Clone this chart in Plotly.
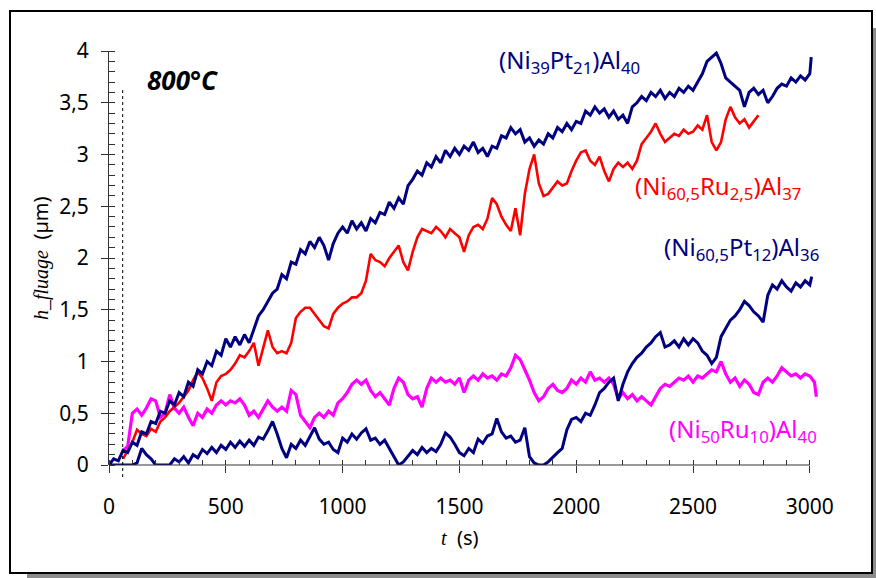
import plotly.graph_objects as go

# ---------------- data ----------------
x_ticks = [0, 500, 1000, 1500, 2000, 2500, 3000]
x_tick_labels = ["0", "500", "1000", "1500", "2000", "2500", "3000"]
y_ticks = [0, 0.5, 1, 1.5, 2, 2.5, 3, 3.5, 4]
y_tick_labels = ["0", "0,5", "1", "1,5", "2", "2,5", "3", "3,5", "4"]

# (Ni39Pt21)Al40  -- t = 0..3000 step 20, then 3006
pt21_t = list(range(0, 3001, 20)) + [3006]
pt21_h = [
    0.00, 0.06, 0.04, 0.14, 0.12, 0.22, 0.19, 0.32, 0.30, 0.42,
    0.40, 0.52, 0.50, 0.62, 0.58, 0.70, 0.66, 0.80, 0.76, 0.92,
    0.88, 1.00, 0.96, 1.10, 1.06, 1.22, 1.14, 1.24, 1.16, 1.26,
    1.18, 1.30, 1.44, 1.50, 1.58, 1.66, 1.70, 1.84, 1.80, 1.96,
    1.94, 2.08, 2.04, 2.16, 2.10, 2.20, 2.12, 1.98, 2.14, 2.24,
    2.30, 2.24, 2.36, 2.28, 2.34, 2.26, 2.38, 2.34, 2.44, 2.42,
    2.54, 2.48, 2.58, 2.52, 2.70, 2.76, 2.84, 2.80, 2.92, 2.88,
    2.98, 2.92, 3.04, 2.98, 3.06, 3.00, 3.08, 3.04, 3.12, 3.02,
    3.06, 2.98, 3.08, 3.06, 3.18, 3.16, 3.26, 3.20, 3.24, 3.12,
    3.16, 3.08, 3.14, 3.10, 3.20, 3.16, 3.26, 3.22, 3.30, 3.24,
    3.32, 3.30, 3.42, 3.38, 3.46, 3.40, 3.44, 3.36, 3.42, 3.34,
    3.38, 3.30, 3.46, 3.50, 3.56, 3.52, 3.60, 3.56, 3.62, 3.54,
    3.60, 3.56, 3.64, 3.60, 3.66, 3.62, 3.70, 3.78, 3.90, 3.94,
    3.98, 3.88, 3.74, 3.70, 3.66, 3.62, 3.46, 3.60, 3.64, 3.58,
    3.62, 3.50, 3.56, 3.64, 3.68, 3.66, 3.74, 3.70, 3.76, 3.72,
    3.78, 3.94,
]

# (Ni60,5Ru2,5)Al37  -- t = 60..2780 step 20
ru25_t = list(range(60, 2781, 20))
ru25_h = [
    0.06, 0.14, 0.22, 0.34, 0.30, 0.28, 0.35, 0.32, 0.42, 0.46,
    0.52, 0.56, 0.60, 0.66, 0.72, 0.82, 0.90, 0.84, 0.74, 0.62,
    0.80, 0.86, 0.88, 0.92, 0.98, 1.06, 1.04, 1.10, 1.18, 0.96,
    1.14, 1.30, 1.14, 1.08, 1.10, 1.08, 1.18, 1.42, 1.48, 1.52,
    1.52, 1.46, 1.40, 1.34, 1.32, 1.46, 1.52, 1.56, 1.58, 1.62,
    1.62, 1.66, 1.78, 2.04, 1.98, 1.96, 1.92, 2.00, 2.06, 2.12,
    1.96, 1.88, 2.06, 2.20, 2.28, 2.26, 2.24, 2.30, 2.26, 2.20,
    2.28, 2.24, 2.20, 2.06, 2.22, 2.30, 2.32, 2.28, 2.38, 2.58,
    2.52, 2.40, 2.32, 2.26, 2.48, 2.22, 2.62, 2.86, 3.00, 2.72,
    2.60, 2.62, 2.68, 2.74, 2.70, 2.72, 2.84, 2.94, 3.02, 3.04,
    2.94, 2.90, 2.98, 2.84, 2.74, 2.86, 2.92, 2.88, 2.92, 2.86,
    2.94, 3.10, 3.16, 3.22, 3.30, 3.20, 3.12, 3.16, 3.20, 3.18,
    3.24, 3.20, 3.22, 3.28, 3.24, 3.38, 3.12, 3.04, 3.12, 3.34,
    3.46, 3.36, 3.30, 3.34, 3.26, 3.32, 3.38,
]

# (Ni60,5Pt12)Al36  -- t = 0..3000 step 20, then 3008
pt12_t = list(range(0, 3001, 20)) + [3008]
pt12_h = [
    0.00, 0.00, 0.00, 0.00, 0.00, 0.00, 0.02, 0.16, 0.10, 0.06,
    0.00, 0.00, 0.00, 0.00, 0.06, 0.03, 0.08, 0.02, 0.10, 0.07,
    0.15, 0.11, 0.17, 0.12, 0.19, 0.15, 0.22, 0.17, 0.23, 0.18,
    0.24, 0.19, 0.27, 0.25, 0.33, 0.42, 0.30, 0.16, 0.07, 0.20,
    0.16, 0.24, 0.19, 0.28, 0.36, 0.25, 0.20, 0.22, 0.15, 0.12,
    0.26, 0.22, 0.30, 0.25, 0.31, 0.35, 0.24, 0.26, 0.20, 0.24,
    0.16, 0.08, 0.00, 0.03, 0.08, 0.14, 0.10, 0.17, 0.12, 0.16,
    0.13, 0.20, 0.31, 0.27, 0.20, 0.12, 0.09, 0.16, 0.12, 0.25,
    0.21, 0.28, 0.30, 0.45, 0.32, 0.26, 0.28, 0.22, 0.24, 0.36,
    0.08, 0.02, 0.00, 0.00, 0.03, 0.08, 0.12, 0.16, 0.34, 0.44,
    0.46, 0.42, 0.50, 0.48, 0.58, 0.70, 0.74, 0.80, 0.84, 0.62,
    0.78, 0.90, 0.98, 1.04, 1.08, 1.14, 1.18, 1.24, 1.28, 1.14,
    1.16, 1.20, 1.14, 1.22, 1.16, 1.22, 1.18, 1.10, 1.06, 0.98,
    1.04, 1.24, 1.32, 1.40, 1.44, 1.50, 1.58, 1.54, 1.48, 1.44,
    1.38, 1.64, 1.74, 1.70, 1.78, 1.72, 1.68, 1.76, 1.72, 1.78,
    1.74, 1.82,
]

# (Ni50Ru10)Al40  -- t = 60..3020 step 20, then 3028
ru10_t = list(range(60, 3021, 20)) + [3028]
ru10_h = [
    0.14, 0.18, 0.50, 0.54, 0.48, 0.55, 0.64, 0.62, 0.46, 0.50,
    0.68, 0.55, 0.50, 0.56, 0.46, 0.38, 0.50, 0.46, 0.54, 0.50,
    0.58, 0.62, 0.58, 0.62, 0.60, 0.64, 0.58, 0.48, 0.52, 0.46,
    0.54, 0.62, 0.56, 0.52, 0.56, 0.52, 0.72, 0.68, 0.48, 0.42,
    0.36, 0.46, 0.50, 0.46, 0.52, 0.48, 0.60, 0.64, 0.70, 0.78,
    0.82, 0.78, 0.82, 0.72, 0.66, 0.70, 0.64, 0.58, 0.74, 0.84,
    0.80, 0.68, 0.64, 0.66, 0.56, 0.74, 0.84, 0.80, 0.84, 0.80,
    0.82, 0.78, 0.84, 0.70, 0.82, 0.86, 0.82, 0.88, 0.84, 0.86,
    0.82, 0.88, 0.86, 0.94, 1.06, 1.02, 0.92, 0.82, 0.70, 0.62,
    0.66, 0.74, 0.78, 0.72, 0.70, 0.74, 0.82, 0.78, 0.84, 0.80,
    0.90, 0.82, 0.84, 0.80, 0.84, 0.78, 0.64, 0.70, 0.64, 0.68,
    0.62, 0.66, 0.62, 0.58, 0.66, 0.74, 0.78, 0.76, 0.80, 0.84,
    0.82, 0.86, 0.80, 0.86, 0.84, 0.88, 0.92, 0.90, 1.00, 0.88,
    0.80, 0.84, 0.76, 0.82, 0.78, 0.70, 0.68, 0.80, 0.84, 0.80,
    0.86, 0.94, 0.90, 0.86, 0.88, 0.84, 0.88, 0.86, 0.80,
    0.66,
]

# ---------------- layout helpers ----------------
W, H = 876, 578
ML, MR, MT, MB = 109, 58, 51, 113
X_MAX = 3035
PW = W - ML - MR
PH = H - MT - MB

def pxx(x):
    return (x - ML) / PW

def pxy(y):
    return (H - MB - y) / PH

NAVY = "#000080"
RED = "#ff0000"
MAG = "#ff00ff"
FONT = "Noto Sans"
AX = "#333333"

fig = go.Figure()
for t, h, c, w in [
    (ru10_t, ru10_h, MAG, 3.2),
    (ru25_t, ru25_h, RED, 2.6),
    (pt12_t, pt12_h, NAVY, 3.0),
    (pt21_t, pt21_h, NAVY, 3.0),
]:
    fig.add_trace(go.Scatter(x=t, y=h, mode="lines", line=dict(color=c, width=w),
                             hoverinfo="skip", showlegend=False))

shapes = [
    dict(type="rect", xref="paper", yref="paper", layer="below",
         x0=pxx(27), x1=pxx(878), y0=pxy(28), y1=pxy(580),
         fillcolor="#8c8c8c", line=dict(width=0)),
    dict(type="rect", xref="paper", yref="paper", layer="below",
         x0=pxx(10), x1=pxx(872), y0=pxy(11), y1=pxy(573),
         fillcolor="white", line=dict(color="black", width=2)),
    dict(type="line", xref="x", yref="paper", x0=0, x1=3000, y0=0, y1=0,
         line=dict(color=AX, width=1)),
    dict(type="line", xref="paper", yref="paper", x0=pxx(122.7), x1=pxx(122.7),
         y0=pxy(90), y1=pxy(477), line=dict(color="black", width=1, dash="dot")),
]

ann = [
    dict(text="<b><i>800°C</i></b>", x=pxx(145), y=pxy(80), xanchor="left", yanchor="middle",
         font=dict(size=26, color="black", family=FONT)),
    dict(text="(Ni<sub>39</sub>Pt<sub>21</sub>)Al<sub>40</sub>", x=pxx(497), y=pxy(61),
         xanchor="left", yanchor="middle", font=dict(size=24, color=NAVY, family=FONT)),
    dict(text="(Ni<sub>60,5</sub>Ru<sub>2,5</sub>)Al<sub>37</sub>", x=pxx(803), y=pxy(187),
         xanchor="right", yanchor="middle", font=dict(size=24, color=RED, family=FONT)),
    dict(text="(Ni<sub>60,5</sub>Pt<sub>12</sub>)Al<sub>36</sub>", x=pxx(821), y=pxy(248),
         xanchor="right", yanchor="middle", font=dict(size=24, color=NAVY, family=FONT)),
    dict(text="(Ni<sub>50</sub>Ru<sub>10</sub>)Al<sub>40</sub>", x=pxx(819), y=pxy(430),
         xanchor="right", yanchor="middle", font=dict(size=24, color=MAG, family=FONT)),
    dict(text="<span style='font-family:Liberation Serif'><i>h_fluage</i></span>  (µm)",
         x=pxx(40), y=pxy(258), textangle=-90, xanchor="center", yanchor="middle",
         font=dict(size=20, color="black", family=FONT)),
    dict(text="<span style='font-family:Liberation Serif'><i>t</i></span>  (s)",
         x=pxx(460), y=pxy(537), xanchor="center", yanchor="middle",
         font=dict(size=20, color="black", family=FONT)),
]
for a in ann:
    a.update(xref="paper", yref="paper", showarrow=False)

tickfont = dict(size=21, color="black", family=FONT)
fig.update_layout(
    width=W, height=H,
    margin=dict(l=ML, r=MR, t=MT, b=MB, pad=0),
    paper_bgcolor="white", plot_bgcolor="rgba(0,0,0,0)",
    shapes=shapes, annotations=ann, showlegend=False,
    xaxis=dict(range=[0, X_MAX], tickmode="array", tickvals=x_ticks, ticktext=x_tick_labels,
               ticks="outside", ticklen=7, tickwidth=1, tickcolor=AX,
               showline=False, showgrid=False, zeroline=False, tickfont=tickfont,
               ticklabelstandoff=16,
               minor=dict(tickmode="linear", tick0=0, dtick=100, ticks="inside",
                          ticklen=5, tickwidth=1, tickcolor=AX, showgrid=False)),
    xaxis2=dict(range=[0, X_MAX], overlaying="x", side="bottom", anchor="y",
                tickmode="array", tickvals=x_ticks, ticks="inside", ticklen=5,
                tickwidth=1, tickcolor=AX, showticklabels=False, showline=False,
                showgrid=False, zeroline=False),
    yaxis=dict(range=[0, 4], tickmode="array", tickvals=y_ticks, ticktext=y_tick_labels,
               ticks="outside", ticklen=7, tickwidth=1, tickcolor=AX,
               showline=True, linecolor=AX, linewidth=1,
               showgrid=False, zeroline=False, tickfont=tickfont, ticklabelstandoff=8,
               minor=dict(tickmode="linear", tick0=0, dtick=0.1, ticks="inside",
                          ticklen=6, tickwidth=1, tickcolor=AX, showgrid=False)),
    yaxis2=dict(range=[0, 4], overlaying="y", side="left", anchor="x",
                tickmode="array", tickvals=y_ticks, ticks="inside", ticklen=6,
                tickwidth=1, tickcolor=AX, showticklabels=False, showline=False,
                showgrid=False, zeroline=False),
)

fig.write_html(
    "out.html",
    config={"displayModeBar": False},
    post_script="document.body.style.margin='0';document.body.style.overflow='hidden';",
)
